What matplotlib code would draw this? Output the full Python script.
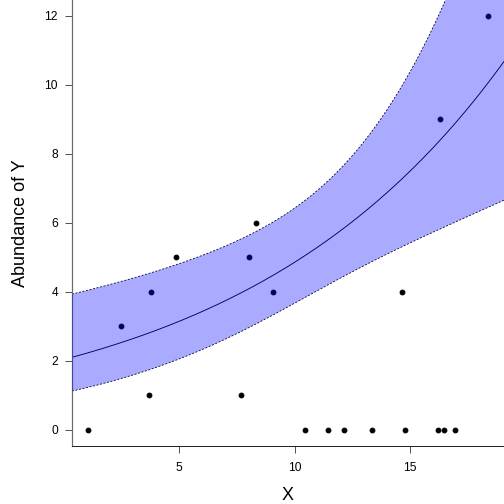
import numpy as np
import matplotlib
matplotlib.use("Agg")
import matplotlib.pyplot as plt

plt.rcParams['font.family'] = ['Liberation Sans', 'DejaVu Sans']

# observed points
x_obs = [1.05, 2.48, 3.68, 3.78, 4.87, 7.68, 8.03, 8.32, 9.06, 10.44,
         11.45, 12.13, 13.33, 14.65, 14.78, 16.21, 16.27, 16.47, 16.95, 18.35]
y_obs = [0, 3, 1, 4, 5, 1, 5, 6, 4, 0,
         0, 0, 0, 4, 0, 0, 9, 0, 0, 12]

# fitted count model (log link)
b0 = 0.712
b1 = 0.0869
se_min2 = 0.073     # min variance of linear predictor (incl. z^2)
se_x0 = 11.45       # where the band is narrowest
se_curv = 0.0026

xlo, xhi = 0.35, 19.06
xs = np.linspace(xlo, xhi, 300)
eta = b0 + b1 * xs
h = np.sqrt(se_min2 + se_curv * (xs - se_x0) ** 2)
mid = np.exp(eta)
up = np.exp(eta + h)
lo = np.exp(eta - h)

fig = plt.figure(figsize=(7, 7), dpi=72)
ax = fig.add_axes([72/504, 58/504, 432/504, 446/504])

ax.plot(x_obs, y_obs, 'o', color='black', ms=4.8, zorder=1, clip_on=False)
ax.plot(xs, mid, color='black', lw=0.9, zorder=2)
ax.plot(xs, up, color='black', lw=0.8, ls=(0, (2.5, 2)), zorder=2)
ax.plot(xs, lo, color='black', lw=0.8, ls=(0, (2.5, 2)), zorder=2)
ax.fill_between(xs, lo, up, color='blue', alpha=1/3, lw=0, zorder=3)

ax.set_xlim(xlo, xhi)
ax.set_ylim(-0.47, 12.46)
ax.set_xticks([5, 10, 15])
ax.set_yticks([0, 2, 4, 6, 8, 10, 12])

ax.spines['top'].set_visible(False)
ax.spines['right'].set_visible(False)
ax.spines['left'].set_color('#6a6a6a')
ax.spines['left'].set_linewidth(1.2)
ax.spines['bottom'].set_color('#222222')
ax.spines['bottom'].set_linewidth(1.0)
ax.tick_params(axis='y', length=7, width=1, color='#555555', labelsize=12, pad=7)
ax.tick_params(axis='x', length=7, width=1, color='#555555', labelsize=12, pad=9)

ax.set_xlabel('X', fontsize=18, labelpad=13)
ax.set_ylabel('Abundance of Y', fontsize=18, labelpad=15)

fig.savefig('out.png', dpi=72)
